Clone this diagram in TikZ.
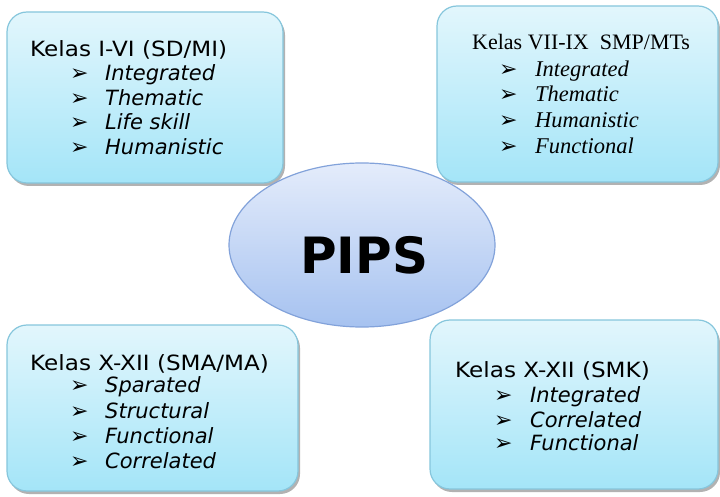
\documentclass[tikz,border=0pt]{standalone}
\usepackage{fontspec}
\setmainfont{DejaVu Sans}
\newfontfamily\timesf{Liberation Serif}
\newfontfamily\dingf{DejaVu Sans}
\newfontfamily\verdf[FakeStretch=1.1]{DejaVu Sans}
\usetikzlibrary{shapes.geometric,shadows}
\definecolor{boxtop}{HTML}{E2F6FC}
\definecolor{boxbot}{HTML}{A4E5F8}
\definecolor{boxline}{HTML}{86C6DC}
\definecolor{elltop}{HTML}{E4ECFB}
\definecolor{ellbot}{HTML}{A6C2F0}
\definecolor{ellline}{HTML}{82A2DA}
\tikzset{
  panel/.style={draw=boxline, line width=1.2pt, rounded corners=20pt,
    top color=boxtop, bottom color=boxbot,
    drop shadow={shadow xshift=2pt, shadow yshift=-3pt, opacity=0.5, fill=black!60}},
  ttl/.style={anchor=base west, inner sep=0pt, font=\fontsize{21}{24}\selectfont\verdf},
  itm/.style={anchor=base west, inner sep=0pt, font=\fontsize{21}{24}\selectfont\itshape},
  bul/.style={anchor=base west, inner sep=0pt, font=\fontsize{22}{24}\selectfont\dingf},
  ttlT/.style={anchor=base west, inner sep=0pt, font=\fontsize{22}{24}\selectfont\timesf},
  itmT/.style={anchor=base west, inner sep=0pt, font=\fontsize{22.5}{24}\selectfont\timesf\itshape},
}
\begin{document}
\begin{tikzpicture}[x=1pt,y=-1pt]
\useasboundingbox (0,0) rectangle (720,497);
% panels
\path[panel] (7,12) rectangle (283,183);
\path[panel] (437,6) rectangle (718,182);
\path[panel] (7,325) rectangle (298,491);
\path[panel] (430,320) rectangle (718,489);
% ellipse
\node[ellipse, draw=ellline, line width=1.2pt, top color=elltop, bottom color=ellbot,
  minimum width=266pt, minimum height=164pt, inner sep=0pt] (pips) at (362,245) {};
\node[anchor=base west, inner sep=0pt, font=\fontsize{50}{56}\selectfont\bfseries] (pipst) at (300,273) {PIPS};
% box 1
\node[ttl] (t1) at (30,57) {Kelas I-VI (SD/MI)};
\node[bul] (b11) at (70,81) {➢};
\node[itm] (i11) at (105,81) {Integrated};
\node[bul] (b12) at (70,106) {➢};
\node[itm] (i12) at (105,106) {Thematic};
\node[bul] (b13) at (70,130) {➢};
\node[itm] (i13) at (105,130) {Life skill};
\node[bul] (b14) at (70,155) {➢};
\node[itm] (i14) at (105,155) {Humanistic};
% box 2
\node[ttlT] (t2) at (472,50) {Kelas VII-IX\ \ SMP/MTs};
\node[bul] (b21) at (499,77) {➢};
\node[itmT] (i21) at (535,77) {Integrated};
\node[bul] (b22) at (499,102) {➢};
\node[itmT] (i22) at (535,102) {Thematic};
\node[bul] (b23) at (499,128) {➢};
\node[itmT] (i23) at (535,128) {Humanistic};
\node[bul] (b24) at (499,154) {➢};
\node[itmT] (i24) at (535,154) {Functional};
% box 3
\node[ttl] (t3) at (30,370) {Kelas X-XII (SMA/MA)};
\node[bul] (b31) at (70,392) {➢};
\node[itm] (i31) at (105,392) {Sparated};
\node[bul] (b32) at (70,418) {➢};
\node[itm] (i32) at (105,418) {Structural};
\node[bul] (b33) at (70,443) {➢};
\node[itm] (i33) at (105,443) {Functional};
\node[bul] (b34) at (70,468) {➢};
\node[itm] (i34) at (105,468) {Correlated};
% box 4
\node[ttl] (t4) at (455,377) {Kelas X-XII (SMK)};
\node[bul] (b41) at (494,402) {➢};
\node[itm] (i41) at (530,402) {Integrated};
\node[bul] (b42) at (494,427) {➢};
\node[itm] (i42) at (530,427) {Correlated};
\node[bul] (b43) at (494,450) {➢};
\node[itm] (i43) at (530,450) {Functional};
\end{tikzpicture}
\end{document}
